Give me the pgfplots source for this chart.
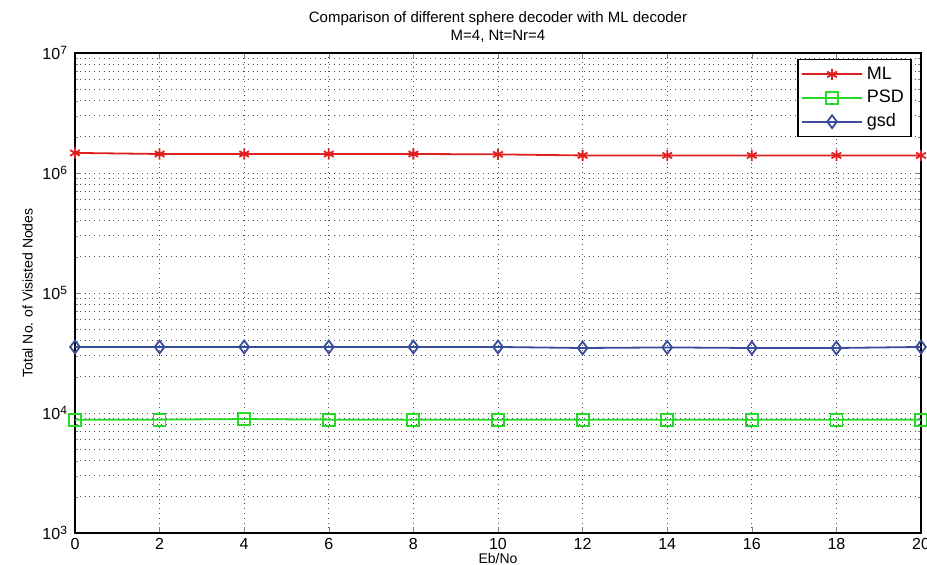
\documentclass[border=0pt]{standalone}
\usepackage{pgfplots}
\pgfplotsset{compat=1.18}
\usepackage{fontspec}
\setmainfont{Liberation Sans}

\definecolor{mlred}{rgb}{0.88,0.12,0.12}
\definecolor{psdgreen}{rgb}{0.15,0.85,0.15}
\definecolor{gsdblue}{rgb}{0.22,0.3,0.6}

\begin{document}
\begin{tikzpicture}
\begin{axis}[
  scale only axis,
  width=423pt, height=240pt,
  ymode=log,
  xmin=0, xmax=20, ymin=1e3, ymax=1e7,
  xtick={0,2,...,20},
  ytick={1e3,1e4,1e5,1e6,1e7},
  yticklabels={10\textsuperscript{3},10\textsuperscript{4},10\textsuperscript{5},10\textsuperscript{6},10\textsuperscript{7}},
  /pgf/number format/assume math mode=true,
  tick label style={font=\fontsize{8}{9}\selectfont},
  xticklabel style={yshift=1pt},
  label style={font=\fontsize{7}{8}\selectfont},
  tick align=inside,
  major tick length=3pt,
  minor tick length=1.6pt,
  xmajorgrids, ymajorgrids, yminorgrids,
  major grid style={dotted, black!70},
  minor grid style={dotted, black!70},
  axis line style={black, line width=0.7pt},
  title={Comparison of different sphere decoder with ML decoder\\M=4, Nt=Nr=4},
  title style={align=center, font=\fontsize{7.5}{9}\selectfont, yshift=-4pt},
  xlabel={Eb/No},
  ylabel={Total No. of Visisted Nodes},
  xlabel style={yshift=5pt},
  ylabel style={yshift=-2pt},
  legend cell align=left,
  legend style={at={(0.989,0.9875)}, anchor=north east, draw=black, line width=0.7pt,
    font=\fontsize{9}{10}\selectfont, inner sep=1.5pt, row sep=0pt},
  legend image code/.code={%
    \draw[mark=none, line width=0.9pt] (0pt,0pt) -- (30pt,0pt);
    \draw plot coordinates {(15pt,0pt)};},
]
\addplot[mlred, mark=asterisk, mark size=2.8pt, line width=0.9pt] coordinates {
(0,1.47e6) (2,1.44e6) (4,1.44e6) (6,1.44e6) (8,1.44e6) (10,1.43e6)
(12,1.40e6) (14,1.40e6) (16,1.40e6) (18,1.40e6) (20,1.40e6)};
\addlegendentry{ML}
\addplot[psdgreen, mark=square, mark size=3pt, line width=0.9pt] coordinates {
(0,8.8e3) (2,8.8e3) (4,8.9e3) (6,8.8e3) (8,8.8e3) (10,8.8e3)
(12,8.8e3) (14,8.8e3) (16,8.8e3) (18,8.8e3) (20,8.8e3)};
\addlegendentry{PSD}
\addplot[gsdblue, mark=diamond, mark size=3.2pt, line width=0.9pt] coordinates {
(0,3.55e4) (2,3.55e4) (4,3.55e4) (6,3.55e4) (8,3.55e4) (10,3.55e4)
(12,3.48e4) (14,3.52e4) (16,3.48e4) (18,3.48e4) (20,3.55e4)};
\addlegendentry{gsd}
\end{axis}
\pgfresetboundingbox
\useasboundingbox ([shift={(-37.5pt,-16pt)}]current axis.south west) rectangle ([shift={(3pt,26.5pt)}]current axis.north east);
\end{tikzpicture}
\end{document}
